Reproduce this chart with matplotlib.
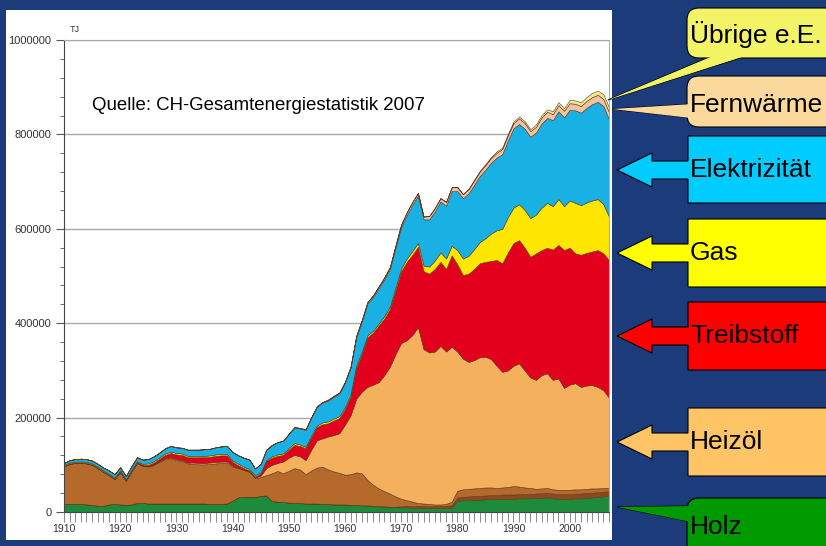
import numpy as np
import matplotlib
matplotlib.use('Agg')
from matplotlib import pyplot as plt
from matplotlib.patches import Rectangle, FancyBboxPatch, Polygon

plt.rcParams['font.family'] = ['Liberation Sans', 'DejaVu Sans']

# Endenergieverbrauch Schweiz, Werte in 1000 TJ
years = np.arange(1910, 2008)

holz = [17,17,17,17,16,15,13,13,16,17,
        16,15,16,19,19,18,18,18,18,18,
        18,18,18,18,18,18,17,17,17,18,
        24,31,32,32,32,34,35,23,22,21,
        20,19,19,18,18,18,17,17,16,16,
        16,15,15,14,14,13,12,12,11,11,
        10,10,9,9,9,8,8,8,8,9,
        24,25,25,26,26,27,27,27,28,28,
        28,29,29,29,30,30,31,29,28,28,
        28,29,29,30,31,32,33,34]

muell = [0,0,0,0,0,0,0,0,0,0,
         0,0,0,0,0,0,0,0,0,0,
         0,0,0,0,0,0,0,0,0,0,
         0,0,0,0,0,0,0,0,0,0,
         0,0,0,0,0,0,0,0,0,0,
         0,0,0,0,0,0,0,0,0,0,
         2,3,3,4,4,4,5,5,5,5,
         7,7,8,8,8,8,9,9,9,9,
         9,9,9,9,9,10,10,10,10,10,
         10,10,10,10,10,10,10,10]

kohle = [80,85,87,87,87,85,80,72,62,53,
         69,51,70,85,79,78,82,89,94,96,
         92,90,85,84,83,83,85,86,87,86,
         72,62,57,53,40,40,43,59,65,61,
         67,74,71,62,70,76,79,73,70,67,
         63,65,69,68,54,45,38,32,28,22,
         16,12,10,6,5,5,3,3,4,8,
         14,16,16,16,17,17,16,15,15,16,
         18,16,14,13,10,10,10,9,9,9,
         9,9,9,9,9,8,8,7]

heizoel = [0,0,0,0,0,0,0,0,0,0,
           0,0,0,0,0,1,1,1,2,2,
           2,2,2,3,3,3,3,3,3,3,
           2,1,1,1,1,3,15,18,17,25,
           28,28,28,30,44,58,60,70,77,84,
           106,125,156,173,197,212,225,246,269,302,
           330,339,353,373,327,321,324,336,323,328,
           295,277,269,272,277,277,272,259,245,247,
           255,261,248,234,231,240,243,232,236,216,
           223,225,217,219,219,215,207,191]

treibstoff = [1,1,1,1,1,1,1,1,1,1,
              1,1,1,2,2,3,4,5,7,9,
              10,11,11,11,12,12,12,13,13,13,
              8,5,3,2,2,5,15,15,15,14,
              17,21,22,25,26,28,30,28,31,32,
              33,40,65,80,105,110,120,120,122,135,
              152,166,170,170,165,167,175,178,175,194,
              185,177,187,193,199,201,208,224,230,250,
              260,261,260,256,268,265,266,276,283,292,
              290,275,280,281,283,290,290,292]

gas = [2,2,2,2,2,2,2,2,2,2,
       2,2,2,2,2,3,3,3,3,3,
       3,3,3,3,3,3,3,3,3,3,
       3,3,3,3,3,2,2,3,3,3,
       3,4,3,3,4,3,4,4,4,4,
       4,5,5,5,4,4,4,5,5,6,
       6,7,8,8,12,15,18,20,22,20,
       30,35,38,42,45,50,58,63,73,75,
       75,76,80,82,82,90,95,92,97,93,
       100,107,105,107,108,108,104,92]

elektrizitaet = [4,5,5,6,6,6,6,6,7,7,
                 7,7,8,8,9,9,10,10,11,12,
                 12,12,13,13,13,14,14,15,16,17,
                 18,18,19,20,14,18,22,24,26,27,
                 30,33,34,36,38,40,42,44,46,48,
                 52,56,60,64,68,72,75,78,80,84,
                 88,92,98,100,98,100,104,108,112,116,
                 125,128,132,136,140,145,150,154,158,162,
                 168,170,172,172,174,178,180,182,186,188,
                 192,196,196,200,204,206,208,206]

fernwaerme = [0,0,0,0,0,0,0,0,0,0,
              0,0,0,0,0,0,0,0,0,0,
              0,0,0,0,0,0,0,0,0,0,
              0,0,0,0,0,0,0,0,0,0,
              1,1,1,1,1,1,1,2,2,2,
              2,2,3,3,3,3,4,4,4,5,
              5,6,6,6,6,7,7,7,8,8,
              8,8,9,9,9,10,10,10,11,11,
              11,12,12,12,12,13,13,13,13,14,
              14,14,14,15,15,15,15,15]

uebrige = [0,0,0,0,0,0,0,0,0,0,
           0,0,0,0,0,0,0,0,0,0,
           0,0,0,0,0,0,0,0,0,0,
           0,0,0,0,0,0,0,0,0,0,
           0,0,0,0,0,0,0,0,0,0,
           0,0,0,0,0,0,0,0,0,0,
           0,0,0,0,0,0,0,0,0,0,
           1,1,1,2,2,2,2,3,3,3,
           3,4,4,4,5,5,5,6,6,6,
           7,7,8,8,9,9,10,10]

series = [holz, muell, kohle, heizoel, treibstoff, gas, elektrizitaet, fernwaerme, uebrige]
colors = ['#1e8a3c', '#8a4a1c', '#b5692b', '#f5b05e', '#e2001c', '#ffe600', '#19b0e4', '#f2c2a4', '#f0ea8c']

bg = '#1b3b7b'
fig = plt.figure(figsize=(8.26, 5.46), dpi=100, facecolor=bg)
fig.patches.append(Rectangle((6/826, 6/546), 606/826, 530/546, transform=fig.transFigure,
                             facecolor='white', edgecolor='none', zorder=-10))

ax = fig.add_axes([64/826, 34/546, 545/826, 472/546])
ax.set_facecolor('none')
ax.stackplot(years, *[np.array(s) * 1000 for s in series], colors=colors,
             edgecolor='#5a3a20', linewidth=0.4)
ax.set_xlim(1910, 2007)
ax.set_ylim(0, 1000000)
ax.set_axisbelow(True)

ax.set_yticks(range(0, 1000001, 200000))
ax.set_yticklabels([str(v) for v in range(0, 1000001, 200000)], fontsize=8, color='#333333')
ax.set_yticks(range(0, 1000001, 40000), minor=True)
ax.set_xticks(range(1910, 2001, 10))
ax.set_xticklabels([str(v) for v in range(1910, 2001, 10)], fontsize=7.5, color='#333333')
ax.set_xticks(range(1910, 2008), minor=True)
ax.tick_params(axis='y', which='major', length=6, width=0.8, color='#555555', pad=3)
ax.tick_params(axis='y', which='minor', length=3, width=0.6, color='#555555')
ax.tick_params(axis='x', which='both', length=7, width=0.6, color='#777777', pad=2)
ax.grid(axis='y', which='major', color='#aaaaaa', linewidth=1)
ax.spines['left'].set_color('#444444')
ax.spines['bottom'].set_color('#444444')
ax.spines['right'].set_color('#aaaaaa')
ax.spines['top'].set_color('#aaaaaa')

fig.text(70/826, 1 - 30/546, 'TJ', fontsize=6.5, color='#333333', va='center')
fig.text(92/826, 1 - 106/546, 'Quelle: CH-Gesamtenergiestatistik 2007', fontsize=13.4,
         color='black', va='center')

# Beschriftungen rechts
ov = fig.add_axes([0, 0, 1, 1], zorder=5)
ov.set_xlim(0, 826)
ov.set_ylim(546, 0)
ov.axis('off')

def arrow_box(top, bot, color, label):
    c = (top + bot) / 2 if label != 'Elektrizität' else 170
    pts = [(617, c), (652, c - 17), (652, c - 9), (688, c - 9), (688, top), (830, top),
           (830, bot), (688, bot), (688, c + 9), (652, c + 9), (652, c + 17)]
    ov.add_patch(Polygon(pts, closed=True, facecolor=color, edgecolor='black', linewidth=0.8))
    ov.text(690, c, label, fontsize=19, va='center', ha='left', color='black')

def callout(top, bot, color, label, wedge, ty):
    ov.add_patch(Polygon(wedge, closed=True, facecolor=color, edgecolor='black', linewidth=0.8))
    ov.add_patch(FancyBboxPatch((687, top), 150, bot - top, boxstyle='round,pad=0,rounding_size=12',
                                facecolor=color, edgecolor='black', linewidth=0.8))
    inner = [wedge[0], (wedge[1][0] + 1, wedge[1][1]), (wedge[2][0] - 1, wedge[2][1])]
    ov.add_patch(Polygon(inner, closed=True, facecolor=color, edgecolor='none'))
    ov.text(690, ty, label, fontsize=19, va='center', ha='left', color='black')

callout(8, 58, '#f3f366', 'Übrige e.E.', [(608, 100), (712, 56), (746, 56)], 35)
callout(76, 127, '#fbd89c', 'Fernwärme', [(612, 109), (692, 104), (692, 118)], 105)
arrow_box(136, 203, '#00ccff', 'Elektrizität')
arrow_box(219, 287, '#ffff00', 'Gas')
arrow_box(302, 370, '#ff0000', 'Treibstoff')
arrow_box(408, 476, '#ffc466', 'Heizöl')
callout(498, 570, '#009900', 'Holz', [(617, 507), (692, 506), (692, 522)], 527)

fig.savefig('out.png', dpi=100, facecolor=bg)
